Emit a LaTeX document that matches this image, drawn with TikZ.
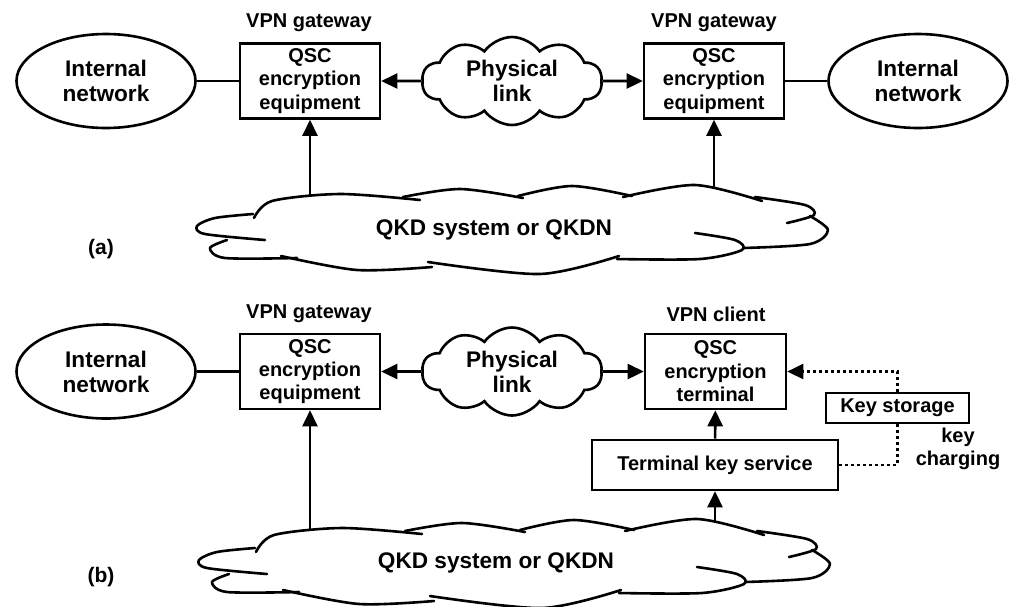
\documentclass[tikz,border=0pt]{standalone}
\usepackage{fontspec}
\setmainfont{Liberation Sans}
\usetikzlibrary{shapes.geometric,shapes.symbols,arrows.meta}
\pgfdeclarelayer{background}
\pgfsetlayers{background,main}
\newcommand{\qkdcloud}{%
  \fill[white]
    plot[smooth] coordinates {(254,218) (272,201) (340,194) (420,200)}
 -- plot[smooth] coordinates {(403,197) (460,189) (523,198)}
 -- plot[smooth] coordinates {(518,196) (572,186) (632,196)}
 -- plot[smooth] coordinates {(623,197) (695,185) (762,201)}
 -- plot[smooth] coordinates {(755,197) (805,205) (814,215)}
 -- plot[smooth] coordinates {(810,216) (828,230) (810,244) (743,248)}
 -- plot[smooth] coordinates {(742,250) (700,259) (617,259)}
 -- plot[smooth] coordinates {(619,256) (540,274) (428,262)}
 -- plot[smooth] coordinates {(432,267) (357,270) (281,256)}
 -- plot[smooth] coordinates {(297,258) (225,258) (210,248) (227,240)}
 -- plot[smooth] coordinates {(205,234) (197,226) (215,218) (253,214)}
 -- cycle;
  \draw[cloudline] plot[smooth] coordinates {(254,218) (272,201) (340,194) (420,200)};
  \draw[cloudline] plot[smooth] coordinates {(403,197) (460,189) (523,198)};
  \draw[cloudline] plot[smooth] coordinates {(518,196) (572,186) (632,196)};
  \draw[cloudline] plot[smooth] coordinates {(623,197) (695,185) (762,201)};
  \draw[cloudline] plot[smooth] coordinates {(755,197) (805,205) (814,215) (787,223)};
  \draw[cloudline] plot[smooth] coordinates {(810,216) (828,230) (810,244) (743,248)};
  \draw[cloudline] plot[smooth] coordinates {(695,233) (735,240) (742,250) (700,259) (617,259)};
  \draw[cloudline] plot[smooth] coordinates {(619,256) (540,274) (428,262)};
  \draw[cloudline] plot[smooth] coordinates {(432,267) (357,270) (281,256)};
  \draw[cloudline] plot[smooth] coordinates {(297,258) (225,258) (210,248) (227,240)};
  \draw[cloudline] plot[smooth] coordinates {(265,240) (205,234) (197,226) (215,218) (253,214)};
}
\begin{document}
\begin{tikzpicture}[x=0.5pt,y=-0.5pt,
  every node/.style={font=\bfseries},
  big/.style={font=\fontsize{11.3}{12.5}\selectfont\bfseries},
  small/.style={font=\fontsize{10}{11.7}\selectfont\bfseries},
  line/.style={line width=1.3pt},
  cloudline/.style={line width=1.3pt, line cap=round, line join=round},
  arr/.style={line, -{Triangle[length=8pt,width=7.5pt]}},
  dotline/.style={line, dash pattern=on 1.5pt off 1.5pt},
  netw/.style={ellipse, draw, line, fill=white, minimum width=89.5pt, minimum height=47pt, inner sep=0pt, align=center, big},
  box/.style={rectangle, draw, line, fill=white, minimum width=70pt, minimum height=37.5pt, inner sep=0pt, align=center, small},
  phys/.style={cloud, draw, line, fill=white, cloud puffs=10, cloud puff arc=110, cloud ignores aspect, minimum width=90pt, minimum height=44pt, inner sep=0pt, align=center, big},
  qkdtext/.style={inner sep=0pt, big},
  lbl/.style={small}
]
\useasboundingbox (0,0) rectangle (1011,606);

% ---------- (a) ----------
\node[netw] (intA1) at (106,81) {Internal\\network};
\node[box] (encA1) at (310,81) {QSC\\encryption\\equipment};
\node[lbl] (vpnA1) at (309,23) {VPN gateway};
\node[phys] (physA) at (512,81) {Physical\\link};
\node[box] (encA2) at (714,81) {QSC\\encryption\\equipment};
\node[lbl] (vpnA2) at (714,23) {VPN gateway};
\node[netw] (intA2) at (918,81) {Internal\\network};
\qkdcloud
\node[qkdtext] (qkdA) at (494,230) {QKD system or QKDN};
\node[lbl, font=\fontsize{10.5}{12}\selectfont\bfseries] (labA) at (101,249) {(a)};

\draw[line] (intA1) -- (encA1);
\draw[line] (encA2) -- (intA2);
\draw[arr] (physA) -- (encA1);
\draw[arr] (physA) -- (encA2);
\begin{pgfonlayer}{background}
\draw[arr] (encA1.south |- qkdA.center) -- (encA1.south);
\draw[arr] (encA2.south |- qkdA.center) -- (encA2.south);
\end{pgfonlayer}

% ---------- (b) ----------
\node[netw] (intB1) at (106,371.5) {Internal\\network};
\node[box] (encB1) at (310,371.5) {QSC\\encryption\\equipment};
\node[lbl] (vpnB1) at (309,314) {VPN gateway};
\node[phys] (physB) at (512,371.5) {Physical\\link};
\node[box, minimum width=70.5pt] (encB2) at (715.5,371.5) {QSC\\encryption\\terminal};
\node[lbl] (vpnB2) at (716,314) {VPN client};
\node[box, minimum width=123pt, minimum height=25pt] (tks) at (715,465) {Terminal key service};
\node[box, minimum width=71.5pt, minimum height=15pt] (ks) at (897.5,408) {Key storage};
\node[lbl, align=center] (charge) at (958,449) {key\\charging};
\begin{scope}[shift={(2,334)}]
\qkdcloud
\end{scope}
\node[qkdtext] (qkdB) at (496,563) {QKD system or QKDN};
\node[lbl, font=\fontsize{10.5}{12}\selectfont\bfseries] (labB) at (101,577) {(b)};

\draw[line] (intB1) -- (encB1);
\draw[arr] (physB) -- (encB1);
\draw[arr] (physB) -- (encB2);
\draw[arr] (tks) -- (encB2);
\draw[dotline] (tks.east) -| (ks.south);
\draw[dotline, -{Triangle[length=8pt,width=7.5pt]}] (ks.north) |- (encB2.east);
\begin{pgfonlayer}{background}
\draw[arr] (encB1.south |- qkdB.center) -- (encB1.south);
\draw[arr] (tks.south |- qkdB.center) -- (tks.south);
\end{pgfonlayer}
\end{tikzpicture}
\end{document}
